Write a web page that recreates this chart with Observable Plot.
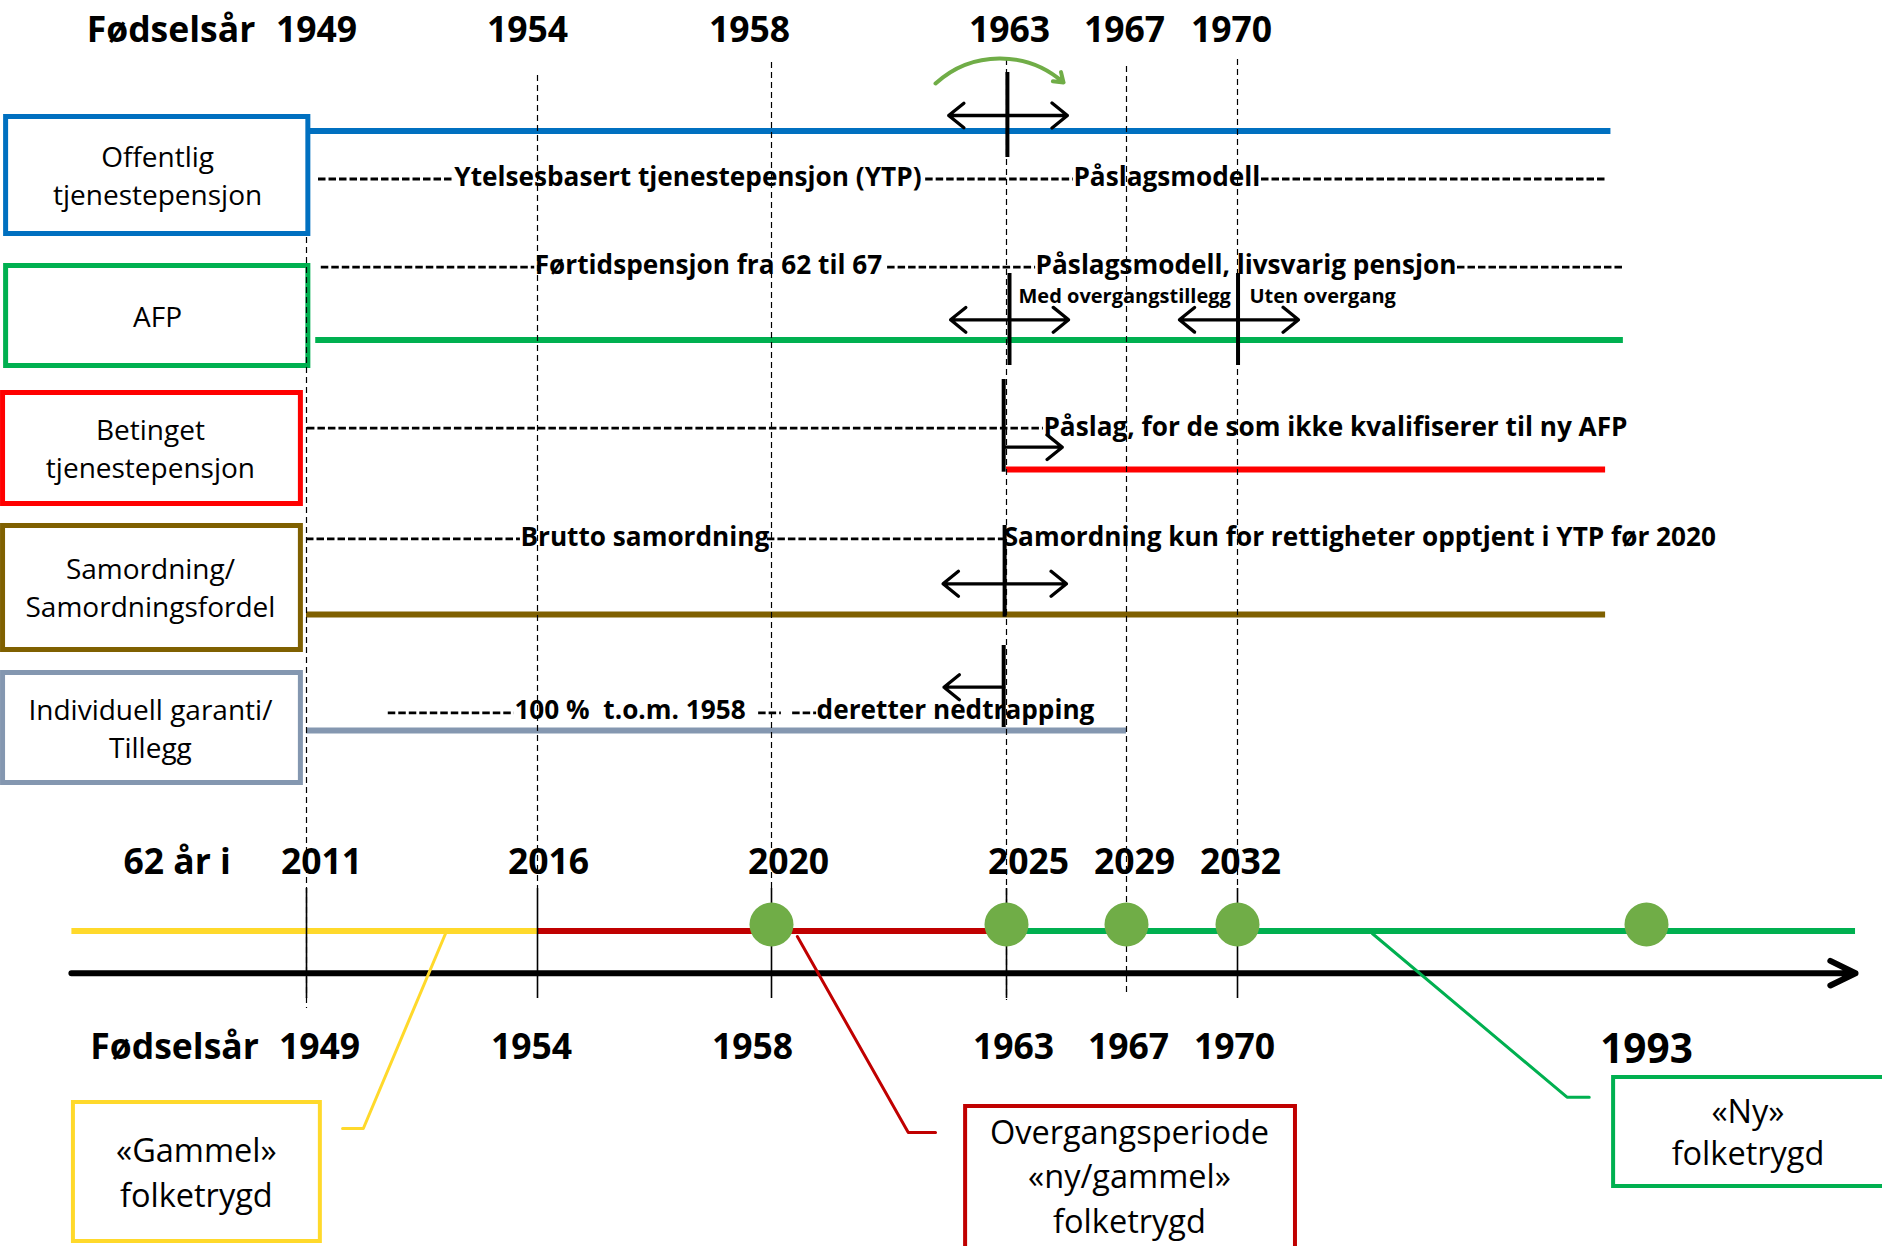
<!DOCTYPE html>
<html>
<head>
<meta charset="utf-8">
<script src="https://cdn.jsdelivr.net/npm/d3@7"></script>
<script src="https://cdn.jsdelivr.net/npm/@observablehq/plot@0.6"></script>
<style>
  html, body { margin: 0; padding: 0; background: #fff; }
  #chart { width: 1882px; height: 1246px; overflow: hidden; }
</style>
</head>
<body>
<div id="chart"></div>
<script>
// ================= DATA =================
const birthYears = [1949, 1954, 1958, 1963, 1967, 1970];
const age62Years = [2011, 2016, 2020, 2025, 2029, 2032];
const milestoneYears = [1958, 1963, 1967, 1970, 1993];
const lastCohort = 1993;
const tickYears = [1949, 1954, 1958, 1963, 1970];

const schemeNames = ["Offentlig\ntjenestepensjon", "AFP", "Betinget\ntjenestepensjon", "Samordning/\nSamordningsfordel", "Individuell garanti/\nTillegg"];
const schemeColors = ["#0070C0", "#00B050", "#FF0000", "#7F6000", "#8497B0"];
const schemeFrom = [1949, 1949.2, 1963, 1949, 1949];
const schemeTo = [1991, 1991.7, 1990.7, 1990.7, 1967];

const noteTexts = [
  "Ytelsesbasert tjenestepensjon (YTP)", "Påslagsmodell",
  "Førtidspensjon fra 62 til 67", "Påslagsmodell, livsvarig pensjon",
  "Påslag, for de som ikke kvalifiserer til ny AFP",
  "Brutto samordning", "Samordning kun for rettigheter opptjent i YTP før 2020",
  "100 %  t.o.m. 1958", "deretter nedtrapping"
];
const subNotes = ["Med overgangstillegg", "Uten overgang"];

const phaseNames = ["«Gammel»\nfolketrygd", "Overgangsperiode\n«ny/gammel»\nfolketrygd", "«Ny»\nfolketrygd"];
const phaseColors = ["#FFD92B", "#C00000", "#00B050"];
const phaseFrom = [1944.4, 1954, 1963];
const phaseTo = [1954, 1963, 1999.2];

// ================= LAYOUT (positions in birth-year units / px) =================
const X_YEARS  = [1943, 1949, 1954, 1958, 1963, 1967, 1970, 1993, 2000];
const X_PIXELS = [0, 306, 537, 771, 1006, 1126, 1237, 1646, 1882];

const boxGeom = [
  [1943.11, 1949.04, 116.5, 233.5],
  [1943.11, 1949.04, 265.5, 365.5],
  [1943.05, 1948.89, 392.5, 503.5],
  [1943.05, 1948.89, 525.5, 649.5],
  [1943.05, 1948.89, 672.5, 782.5]
];
const boxLabelX = [1946.08, 1946.08, 1945.94, 1945.94, 1945.94];
const boxLabelY = [173, 314.5, 446, 585.5, 726];
const rowLineY = [130.5, 339.5, 469, 614, 730];

const hyphenSegs = [
  [178.5, 1949.26, 1952.20], [178.5, 1961.28, 1965.23], [178.5, 1971.35, 1990.81],
  [266.7, 1949.32, 1953.94], [266.7, 1960.47, 1963.97], [266.7, 1982.37, 1991.71],
  [427.7, 1949.02, 1964.23],
  [538.3, 1949.0, 1953.63], [538.3, 1957.93, 1962.94],
  [712.3, 1950.77, 1953.50], [712.3, 1957.78, 1958.21], [712.3, 1958.45, 1958.96]
];
const noteX = [1952.20, 1965.23, 1953.94, 1963.97, 1964.23, 1953.63, 1962.94, 1953.50, 1958.96];
const noteY = [176.7, 176.7, 265, 265, 426.7, 536.7, 536.7, 710, 710];
const subNoteX = [1963.4, 1970.67];

const gridTop = [237, 75, 62, 59, 66, 59];
const gridBottom = [1008, 888, 888, 1000, 994, 888];

const topNudge = [10, -10, -22, 3, -2, -6];
const ageNudge = [15, 11, 17, 22, 8, 3];
const bottomNudge = [13, -6, -19, 7, 2, -3];

const transitionRules = [
  {x: 1963.03, y1: 72, y2: 157},
  {x: 1963.1, y1: 273, y2: 365},
  {x: 1970.03, y1: 273, y2: 365},
  {x: 1962.94, y1: 379, y2: 471.7},
  {x: 1962.96, y1: 525, y2: 616.7},
  {x: 1962.94, y1: 645, y2: 727}
];
const arrowSegs = [
  {x1: 1963.03, x2: 1961.77, y: 115}, {x1: 1963.03, x2: 1965.03, y: 115},
  {x1: 1963.1, x2: 1961.81, y: 319.3}, {x1: 1963.1, x2: 1965.07, y: 319.3},
  {x1: 1970.03, x2: 1968.43, y: 319.3}, {x1: 1970.03, x2: 1973.43, y: 319.3},
  {x1: 1962.94, x2: 1964.86, y: 446.7},
  {x1: 1962.96, x2: 1961.65, y: 583.3}, {x1: 1962.96, x2: 1965.0, y: 583.3},
  {x1: 1962.94, x2: 1961.67, y: 686.7}
];

const calloutGeom = [
  [1944.43, 1949.30, 1102, 1241],
  [1962.13, 1973.26, 1106, 1262],
  [1991.15, 2000.6, 1077, 1186]
];
const calloutTextX = [1946.84, 1967.08, 1996.01];
const calloutTextY = [1169.5, 1173.5, 1130];
const calloutLineHeight = [1.4, 1.38, 1.3];
const leaders = [
  [[1949.78, 1128], [1950.23, 1128], [1952.01, 933]],
  [[1958.55, 936], [1960.91, 1132], [1961.49, 1132]],
  [[1977.58, 933], [1988.53, 1096.7], [1989.78, 1096.7]]
];

const FS_HEAD = 35.5, FS_NOTE = 26.2, FS_SUB = 20, FS_BOX = 28, FS_CALL = 32.5, FS_LAST = 40.5;

// ================= BUILD =================
const FONT = "'Open Sans', 'Noto Sans', sans-serif";
const rows = schemeNames.map((name, i) => ({
  name, color: schemeColors[i], from: schemeFrom[i], to: schemeTo[i],
  bx1: boxGeom[i][0], bx2: boxGeom[i][1], by1: boxGeom[i][2], by2: boxGeom[i][3],
  lx: boxLabelX[i], ly: boxLabelY[i], lineY: rowLineY[i]
}));
const notes = noteTexts.map((t, i) => ({t, x: noteX[i], y: noteY[i]}));
const hyphens = hyphenSegs.map(([y, x1, x2]) => ({y, x1, x2}));
const grid = birthYears.map((x, i) => ({x, y1: gridTop[i], y2: gridBottom[i]}));
const phases = phaseNames.map((name, i) => ({
  name, color: phaseColors[i], from: phaseFrom[i], to: phaseTo[i],
  bx1: calloutGeom[i][0], bx2: calloutGeom[i][1], by1: calloutGeom[i][2], by2: calloutGeom[i][3],
  tx: calloutTextX[i], ty: calloutTextY[i]
}));
const leaderPts = leaders.flatMap((pts, i) => pts.map(([x, y]) => ({x, y, k: i, color: phaseColors[i]})));

const bold = {fontWeight: "bold", fill: "black"};

const chart = Plot.plot({
  width: 1882,
  height: 1246,
  margin: 0,
  x: {type: "linear", domain: X_YEARS, range: X_PIXELS, axis: null},
  y: {type: "linear", domain: [0, 1246], range: [0, 1246], axis: null},
  color: {type: "identity"},
  style: {fontFamily: FONT, background: "white", color: "black"},
  marks: [
    // scheme boxes
    Plot.rect(rows, {x1: "bx1", x2: "bx2", y1: "by1", y2: "by2", fill: "white", stroke: "color", strokeWidth: 5}),
    // scheme lines
    Plot.ruleY(rows, {y: "lineY", x1: "from", x2: "to", stroke: "color", strokeWidth: 6}),
    // "-----" hyphen runs
    Plot.ruleY(hyphens, {y: "y", x1: "x1", x2: "x2", stroke: "black", strokeWidth: 2.8, strokeDasharray: "7.5,3"}),
    // dashed year guides
    Plot.ruleX(grid, {x: "x", y1: "y1", y2: "y2", stroke: "black", strokeWidth: 1.2, strokeDasharray: "6,4"}),
    // transition markers
    Plot.ruleX(transitionRules, {x: "x", y1: "y1", y2: "y2", stroke: "black", strokeWidth: 4}),
    Plot.arrow(arrowSegs, {x1: "x1", x2: "x2", y1: "y", y2: "y", stroke: "black", strokeWidth: 3.3, headAngle: 78, headLength: 9}),
    // green curved arrow
    Plot.arrow([0], {x1: 1961.49, y1: 83, x2: 1964.9, y2: 82, bend: 42, stroke: "#70AD47", strokeWidth: 4, headLength: 4, headAngle: 70}),
    // box labels
    Plot.text(rows, {x: "lx", y: "ly", text: "name", fontSize: FS_BOX, lineHeight: 1.36, fill: "black"}),
    // notes
    Plot.text(notes, {x: "x", y: "y", text: "t", textAnchor: "start", fontSize: FS_NOTE, ...bold}),
    Plot.text(subNotes, {x: (d, i) => subNoteX[i], y: 296.5, text: d => d, textAnchor: "start", fontSize: FS_SUB, ...bold}),
    // header
    Plot.text(["Fødselsår"], {x: 1944.69, y: 30.6, text: d => d, textAnchor: "start", fontSize: FS_HEAD, ...bold}),

    // ----- bottom timeline -----
    Plot.ruleY(phases, {y: 930.5, x1: "from", x2: "to", stroke: "color", strokeWidth: 6}),
    Plot.arrow([0], {x1: 1944.39, x2: 1999.2, y1: 972.7, y2: 972.7, stroke: "black", strokeWidth: 6, headAngle: 52, headLength: 7}),
    Plot.ruleX(tickYears, {x: d => d, y1: 888, y2: 998, stroke: "black", strokeWidth: 1.6}),
    Plot.dot(milestoneYears, {x: d => d, y: 924, r: 22, fill: "#70AD47", stroke: "none"}),
    Plot.line(leaderPts, {x: "x", y: "y", z: "k", stroke: "color", strokeWidth: 3, curve: "linear"}),
    Plot.rect(phases, {x1: "bx1", x2: "bx2", y1: "by1", y2: "by2", fill: "white", stroke: "color", strokeWidth: 4}),
    Plot.text(["62 år i"], {x: 1945.41, y: 861.9, text: d => d, textAnchor: "start", fontSize: FS_HEAD, ...bold}),
    Plot.text(["Fødselsår"], {x: 1944.76, y: 1046.9, text: d => d, textAnchor: "start", fontSize: FS_HEAD, ...bold}),
    Plot.text([lastCohort], {x: d => d, y: 1049.1, text: d => String(d), fontSize: FS_LAST, ...bold})
  ].concat(
    phases.map((p, i) => Plot.text([p], {x: "tx", y: "ty", text: "name", fontSize: FS_CALL, lineHeight: calloutLineHeight[i], fill: "black"})),
    birthYears.map((yr, i) => Plot.text([yr], {x: d => d, y: 30.6, text: d => String(d), dx: topNudge[i], fontSize: FS_HEAD, ...bold})),
    age62Years.map((yr, i) => Plot.text([yr], {x: () => birthYears[i], y: 861.9, text: d => String(d), dx: ageNudge[i], fontSize: FS_HEAD, ...bold})),
    birthYears.map((yr, i) => Plot.text([yr], {x: d => d, y: 1046.9, text: d => String(d), dx: bottomNudge[i], fontSize: FS_HEAD, ...bold}))
  )
});

document.getElementById("chart").appendChild(chart);
</script>
</body>
</html>
